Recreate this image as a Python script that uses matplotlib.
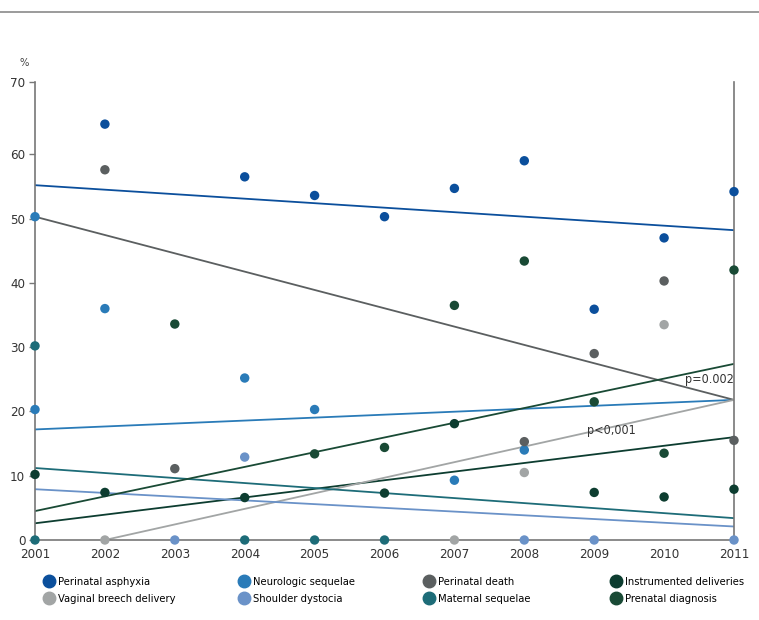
import matplotlib.pyplot as plt
from matplotlib.lines import Line2D
import numpy as np

plt.rcParams['font.family'] = ['DejaVu Sans']
plt.rcParams['font.stretch'] = 'condensed'

years = list(range(2001, 2012))

# series: name, colour, point years, point values, trend (start year, start value, end value at 2011)
names = ['Perinatal asphyxia', 'Neurologic sequelae', 'Perinatal death',
         'Instrumented deliveries', 'Vaginal breech delivery', 'Shoulder dystocia',
         'Maternal sequelae', 'Prenatal diagnosis']
colors = ['#0b4f9c', '#2a7bb8', '#5b5f60', '#0d3d30',
          '#a2a5a5', '#6a92c8', '#1d6c78', '#194a35']

asphyxia_x = [2002, 2004, 2005, 2006, 2007, 2008, 2009, 2010, 2011]
asphyxia_y = [64.7, 56.5, 53.6, 50.3, 54.7, 59.0, 35.9, 47.0, 54.2]
neuro_x = [2001, 2001, 2002, 2004, 2005, 2007, 2008]
neuro_y = [50.3, 20.3, 36.0, 25.2, 20.3, 9.3, 14.0]
death_x = [2002, 2003, 2008, 2009, 2010, 2011]
death_y = [57.6, 11.1, 15.3, 29.0, 40.3, 15.5]
instr_x = [2001, 2002, 2004, 2006, 2007, 2009, 2010, 2011]
instr_y = [10.2, 7.4, 6.6, 7.3, 18.1, 7.4, 6.7, 7.9]
breech_x = [2002, 2007, 2008, 2010]
breech_y = [0, 0, 10.5, 33.5]
shoulder_x = [2003, 2004, 2008, 2009, 2011]
shoulder_y = [0, 12.9, 0, 0, 0]
maternal_x = [2001, 2001, 2004, 2005, 2006]
maternal_y = [0, 30.2, 0, 0, 0]
prenatal_x = [2003, 2005, 2006, 2007, 2008, 2009, 2010, 2011]
prenatal_y = [33.6, 13.4, 14.4, 36.5, 43.4, 21.5, 13.5, 42.0]

points = [(asphyxia_x, asphyxia_y), (neuro_x, neuro_y), (death_x, death_y),
          (instr_x, instr_y), (breech_x, breech_y), (shoulder_x, shoulder_y),
          (maternal_x, maternal_y), (prenatal_x, prenatal_y)]

trend_start_year = [2001, 2001, 2001, 2001, 2002, 2001, 2001, 2001]
trend_start = [55.2, 17.2, 50.3, 2.6, 0.0, 7.9, 11.2, 4.5]
trend_end = [48.2, 21.8, 21.8, 16.0, 21.8, 2.1, 3.4, 27.4]

fig = plt.figure(figsize=(7.59, 6.2), dpi=100)
ax = fig.add_axes([35 / 759, 80 / 620, 699 / 759, 458.3 / 620])

for i in range(len(names)):
    ax.plot([trend_start_year[i], 2011], [trend_start[i], trend_end[i]],
            color=colors[i], lw=1.3, zorder=2)

for i in range(len(names)):
    px, py = points[i]
    ax.scatter(px, py, s=46, color=colors[i], zorder=3, clip_on=False,
               edgecolors='none')

ax.text(2011.0, 24.9, 'p=0.002', ha='right', va='center', fontsize=9,
        color='#333333')
ax.text(2009.25, 17.1, 'p<0,001', ha='center', va='center', fontsize=9,
        color='#333333')

ax.set_xlim(2001, 2011)
ax.set_ylim(0, 71.3)
ax.set_xticks(years)
ax.set_xticklabels([str(y) for y in years])
ax.set_yticks([0, 10, 20, 30, 40, 50, 60, 71.3])
ax.set_yticklabels(['0', '10', '20', '30', '40', '50', '60', '70'])
ax.tick_params(axis='x', length=0, pad=6, labelsize=9.5)
ax.tick_params(axis='y', length=4, width=1, color='#777777', labelsize=9.5,
               pad=3)
for lab in ax.get_yticklabels() + ax.get_xticklabels():
    lab.set_color('#333333')
ax.spines['top'].set_visible(False)
for side in ['left', 'right', 'bottom']:
    ax.spines[side].set_color('#777777')
    ax.spines[side].set_linewidth(1.2)

ax.text(-0.015, 1.03, '%', transform=ax.transAxes, fontsize=8, color='#444444',
        ha='center', va='bottom')

fig.add_artist(Line2D([0, 1], [1 - 12 / 620, 1 - 12 / 620], color='#8a8a8a',
                      lw=1.2, transform=fig.transFigure))

col_x = [42, 237, 422, 609]
for c in range(4):
    handles = []
    for r in range(2):
        k = r * 4 + c
        handles.append(Line2D([], [], marker='o', ls='none', markersize=9,
                              color=colors[k], label=names[k]))
    fig.legend(handles=handles, loc='upper left',
               bbox_to_anchor=(col_x[c] / 759, 1 - 577 / 620),
               frameon=False, fontsize=8, handletextpad=0.2,
               labelspacing=0.65, borderpad=0, borderaxespad=0,
               handlelength=1.2)

fig.savefig('out.png', dpi=100)
